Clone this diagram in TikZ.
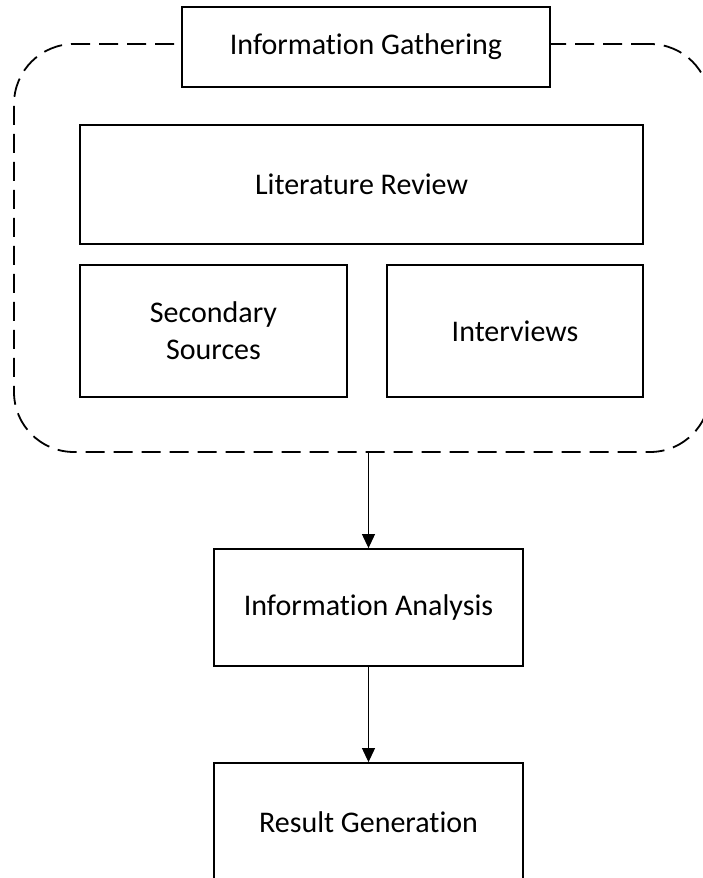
\documentclass[tikz,border=0pt]{standalone}
\usepackage{fontspec}
\setmainfont{Carlito}[Ligatures=NoCommon]
\usetikzlibrary{arrows.meta}
\tikzset{
  stagebox/.style = {rectangle, draw=black, line width=1.8pt, fill=white,
    align=center, inner sep=0pt, font=\fontsize{30}{37}\selectfont},
  groupbox/.style = {rectangle, draw=black, line width=1.8pt, rounded corners=60pt,
    dash pattern=on 19pt off 9pt, inner sep=0pt},
  flow/.style = {-{Triangle[width=13pt,length=14pt]}, line width=1pt},
}
\begin{document}
\begin{tikzpicture}[x=1pt,y=-1pt]
  \useasboundingbox (0,0) rectangle (702,878);

  % group of gathering steps
  \node[groupbox, minimum width=696pt, minimum height=408pt] (gather) at (362,248) {};
  \node[stagebox, minimum width=368pt, minimum height=80pt] (infogath) at (366,47) {Information Gathering};

  \node[stagebox, minimum width=563pt, minimum height=119pt] (litrev) at (361.5,184.5) {Literature Review};
  \node[stagebox, minimum width=267pt, minimum height=132pt] (secsrc) at (213.5,331) {Secondary\\Sources};
  \node[stagebox, minimum width=256pt, minimum height=132pt] (interv) at (515,331) {Interviews};

  % later stages
  \node[stagebox, minimum width=309pt, minimum height=117pt] (analysis) at (368.5,607.5) {Information Analysis};
  \node[stagebox, minimum width=309pt, minimum height=118pt] (result) at (368.5,822) {Result Generation};

  \path[flow] (gather.south -| analysis.north) edge (analysis.north);
  \path[flow] (analysis.south) edge (result.north);
\end{tikzpicture}
\end{document}
